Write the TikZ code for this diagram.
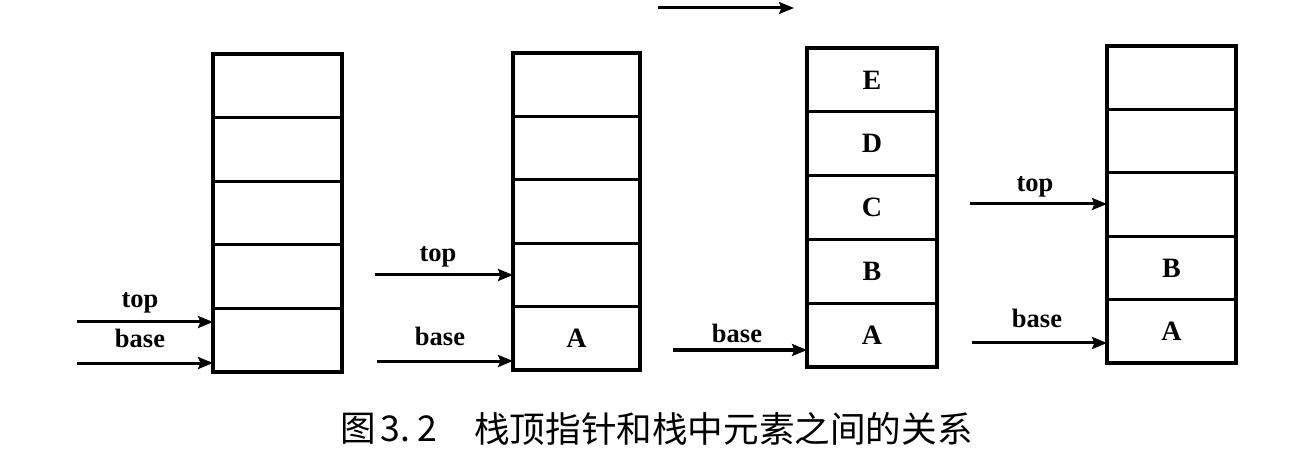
\documentclass[tikz,border=0pt]{standalone}
\usepackage{fontspec}
\setmainfont{Liberation Serif}
\newfontfamily\cjk{Noto Sans CJK SC}
\usetikzlibrary{arrows.meta}
\tikzset{
  cell/.style={draw, line width=3.1pt, inner sep=0pt, outer sep=0pt},
  lab/.style={font=\fontsize{28}{28}\selectfont\bfseries, inner sep=0pt},
  ptr/.style={font=\fontsize{26.5}{26.5}\selectfont\bfseries, inner sep=0pt, anchor=base},
  arr/.style={line width=3pt, -{Stealth[length=15pt,width=12pt,inset=2.5pt]}},
  captxt/.style={font=\fontsize{35.6}{35.6}\selectfont\cjk, inner sep=0pt}
}
\begin{document}
\begin{tikzpicture}[x=1pt,y=-1pt]
\useasboundingbox (0,0) rectangle (1296,462);
% stacks
\foreach \n/\x/\t/\h/\w in {a/277.5/54/63.6/129, b/576.5/53/63.4/127, c/872/48/63.8/130, d/1171.5/46/63.4/129}{
  \foreach \k in {1,...,5}{
    \node[cell, minimum width=\w pt, minimum height=\h pt] (\n\k) at (\x,{\t+(\k-0.5)*\h}) {};
  }
}
% contents
\node[lab] (bA) at (b5) {A};
\node[lab] (cE) at (c1) {E};
\node[lab] (cD) at (c2) {D};
\node[lab] (cC) at (c3) {C};
\node[lab] (cB) at (c4) {B};
\node[lab] (cA) at (c5) {A};
\node[lab] (dB) at (d4) {B};
\node[lab] (dA) at (d5) {A};
% pointers
\coordinate (at) at (77,322);
\coordinate (ab) at (77,363);
\coordinate (bt) at (375,275);
\coordinate (bb) at (377,361);
\coordinate (ct) at (658,8);
\coordinate (cte) at (794,8);
\coordinate (cb) at (673,350);
\coordinate (dt) at (970,204);
\coordinate (db) at (972,343);
\draw[arr] (at) -- (at -| a5.west);
\draw[arr] (ab) -- (ab -| a5.west);
\draw[arr] (bt) -- (bt -| b4.west);
\draw[arr] (bb) -- (bb -| b5.west);
\draw[arr] (ct) -- (cte);
\draw[arr] (cb) -- (cb -| c5.west);
\draw[arr] (dt) -- (dt -| d3.west);
\draw[arr] (db) -- (db -| d5.west);
\node[ptr] (atl) at (140,308) {top};
\node[ptr] (abl) at (140,348) {base};
\node[ptr] (btl) at (438,262) {top};
\node[ptr] (bbl) at (440,345) {base};
\node[ptr] (cbl) at (737,342) {base};
\node[ptr] (dtl) at (1035,192) {top};
\node[ptr] (dbl) at (1037,328) {base};
% caption
\node[captxt, anchor=west] (c1t) at (340,429) {图};
\node[captxt, anchor=base] (c2a) at (390,441) {3};
\node[captxt, anchor=base] (c2b) at (405,441) {.};
\node[captxt, anchor=base] (c2c) at (427,441) {2};
\node[captxt, anchor=west] (c3t) at (474,429) {栈顶指针和栈中元素之间的关系};
\end{tikzpicture}
\end{document}
